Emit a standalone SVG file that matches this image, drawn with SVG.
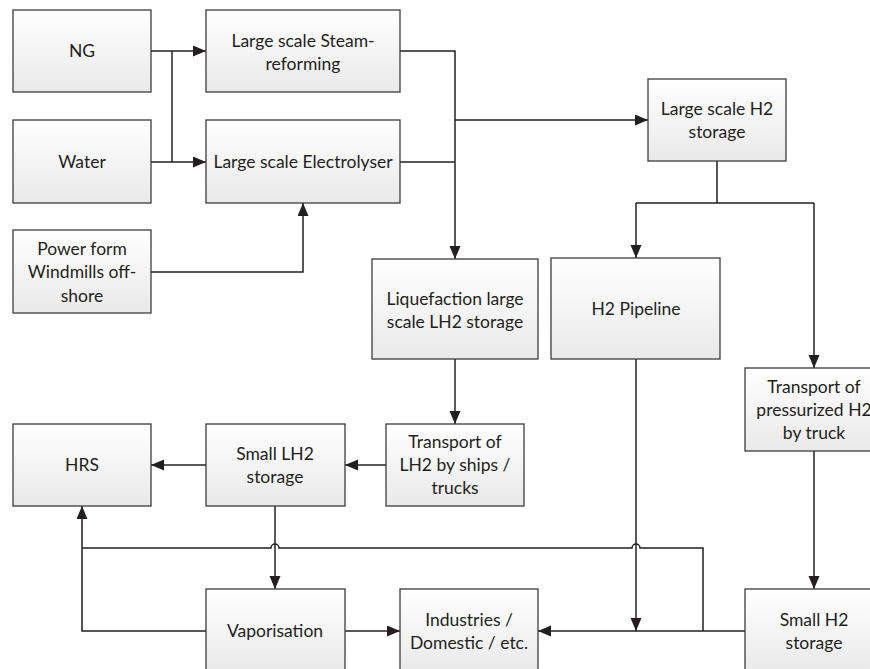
<svg xmlns="http://www.w3.org/2000/svg" width="870" height="669" viewBox="0 0 870 669">
<defs>
<linearGradient id="g" x1="0" y1="0" x2="0" y2="1">
<stop offset="0" stop-color="#ffffff"/>
<stop offset="1" stop-color="#e9e9e9"/>
</linearGradient>
<marker id="a" markerUnits="userSpaceOnUse" markerWidth="14" markerHeight="12" refX="13" refY="5.5" orient="auto">
<path d="M0,0 L13,5.5 L0,11 z" fill="#231f20"/>
</marker>
<style>
.b{fill:url(#g);stroke:#3c3c3c;stroke-width:1.3}
.t{font-family:Lato,"Open Sans",sans-serif;font-size:17.5px;fill:#231f20;text-anchor:middle}
.c{fill:none;stroke:#231f20;stroke-width:1.5}
.m{marker-end:url(#a)}
</style>
</defs>
<rect width="870" height="669" fill="#ffffff"/>
<g id="connectors">
<path class="c m" d="M151,51 H206"/>
<path class="c m" d="M151,162 H206"/>
<path class="c" d="M172,51 V162"/>
<path class="c m" d="M151,272 H303 V203"/>
<path class="c m" d="M400,51 H455 V259"/>
<path class="c" d="M400,162 H455"/>
<path class="c m" d="M455,120 H648"/>
<path class="c" d="M717,161 V203 M636,203 H814"/>
<path class="c m" d="M636,203 V258"/>
<path class="c m" d="M814,203 V368"/>
<path class="c m" d="M455,359 V424"/>
<path class="c m" d="M386,465 H345"/>
<path class="c m" d="M206,465 H151"/>
<path class="c m" d="M275,506 V589"/>
<path class="c m" d="M345,631 H400"/>
<path class="c m" d="M206,631 H82 V506"/>
<path class="c m" d="M745,631 H538"/>
<path class="c" d="M703,631 V548 H640 a4,4 0 0 0 -8,0 H279 a4,4 0 0 0 -8,0 H82"/>
<path class="c m" d="M814,451 V589"/>
<path class="c m" d="M636,359 V631"/>
</g>
<g id="ng"><rect class="b" x="13" y="10" width="138" height="82"/><text class="t" x="82" y="57">NG</text></g>
<g id="water"><rect class="b" x="13" y="120" width="138" height="83"/><text class="t" x="82" y="168">Water</text></g>
<g id="power"><rect class="b" x="13" y="230" width="138" height="83"/><text class="t" x="82" y="254.5">Power form</text><text class="t" x="82" y="278">Windmills off-</text><text class="t" x="82" y="301.5">shore</text></g>
<g id="steam"><rect class="b" x="206" y="10" width="194" height="82"/><text class="t" x="303" y="46.5">Large scale Steam-</text><text class="t" x="303" y="69.5">reforming</text></g>
<g id="electrolyser"><rect class="b" x="206" y="120" width="194" height="83"/><text class="t" x="303" y="168">Large scale Electrolyser</text></g>
<g id="h2storage"><rect class="b" x="648" y="79" width="138" height="82"/><text class="t" x="717" y="115">Large scale H2</text><text class="t" x="717" y="138">storage</text></g>
<g id="liquefaction"><rect class="b" x="372" y="259" width="166" height="100"/><text class="t" x="455" y="304.5">Liquefaction large</text><text class="t" x="455" y="328">scale LH2 storage</text></g>
<g id="pipeline"><rect class="b" x="551" y="258" width="169" height="101"/><text class="t" x="636" y="315">H2 Pipeline</text></g>
<g id="transport-h2"><rect class="b" x="745" y="368" width="137" height="83"/><text class="t" x="814" y="392.5">Transport of</text><text class="t" x="814" y="416">pressurized H2</text><text class="t" x="814" y="439">by truck</text></g>
<g id="hrs"><rect class="b" x="13" y="424" width="138" height="82"/><text class="t" x="82" y="471">HRS</text></g>
<g id="small-lh2"><rect class="b" x="206" y="424" width="139" height="82"/><text class="t" x="275" y="459.5">Small LH2</text><text class="t" x="275" y="482.5">storage</text></g>
<g id="transport-lh2"><rect class="b" x="386" y="424" width="138" height="82"/><text class="t" x="455" y="448">Transport of</text><text class="t" x="455" y="471">LH2 by ships /</text><text class="t" x="455" y="494">trucks</text></g>
<g id="vaporisation"><rect class="b" x="206" y="589" width="139" height="84"/><text class="t" x="275" y="637">Vaporisation</text></g>
<g id="industries"><rect class="b" x="400" y="589" width="138" height="84"/><text class="t" x="469" y="626">Industries /</text><text class="t" x="469" y="649">Domestic / etc.</text></g>
<g id="small-h2"><rect class="b" x="745" y="589" width="137" height="84"/><text class="t" x="814" y="626">Small H2</text><text class="t" x="814" y="649">storage</text></g>
</svg>
